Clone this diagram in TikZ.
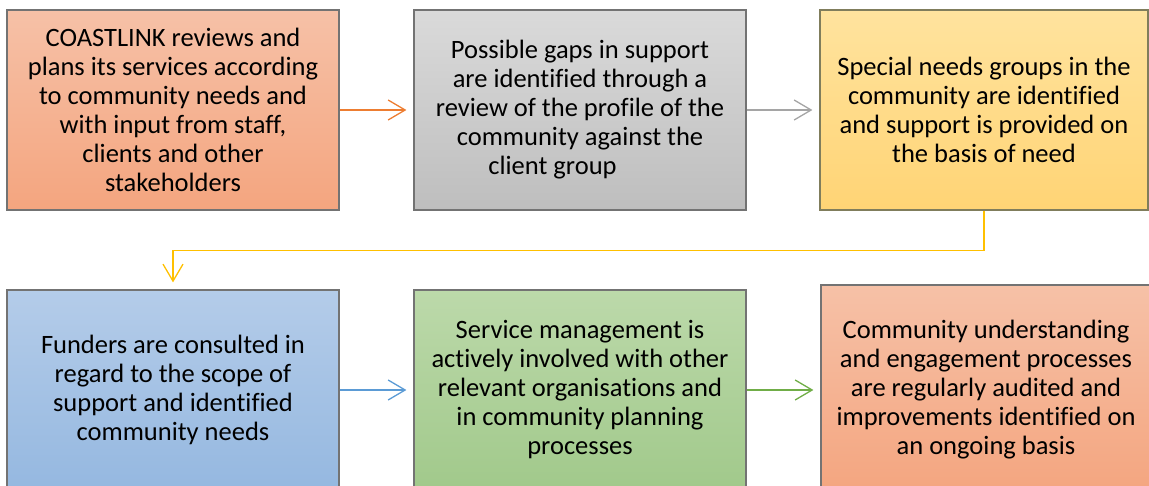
\documentclass[tikz,border=0pt]{standalone}
\usepackage{fontspec}
\setmainfont{Carlito}[Ligatures={NoCommon}]
\usetikzlibrary{positioning, arrows.meta}

\definecolor{orangetop}{HTML}{F6C1A7}
\definecolor{orangebot}{HTML}{F4A57F}
\definecolor{graytop}{HTML}{DADADA}
\definecolor{graybot}{HTML}{BEBEBE}
\definecolor{yellowtop}{HTML}{FFE39E}
\definecolor{yellowbot}{HTML}{FFD475}
\definecolor{bluetop}{HTML}{B4CCE9}
\definecolor{bluebot}{HTML}{95B8E0}
\definecolor{greentop}{HTML}{BCD9AA}
\definecolor{greenbot}{HTML}{A1C98B}
\definecolor{linkorange}{HTML}{ED7D31}
\definecolor{linkgray}{HTML}{A5A5A5}
\definecolor{linkyellow}{HTML}{FFC000}
\definecolor{linkblue}{HTML}{5B9BD5}
\definecolor{linkgreen}{HTML}{70AD47}

\tikzset{
    stage/.style={draw=gray!90!black, line width=1.2pt, minimum width=332pt,
        minimum height=200pt, inner sep=0pt, align=center,
        font=\fontsize{26.5}{29}\selectfont},
    link/.style={line width=1.3pt, -{Straight Barb[length=17pt, width=20pt]},
        shorten >=7pt},
}

\begin{document}
\begin{tikzpicture}[x=1pt, y=-1pt]

\useasboundingbox (0,0) rectangle (1149,486);

% top row
\node[stage, top color=orangetop, bottom color=orangebot] (review) at (173,110)
    {COASTLINK reviews and\\plans its services according\\to community needs and\\with input from staff,\\clients and other\\stakeholders};
\node[stage, top color=graytop, bottom color=graybot, right=73.8pt of review] (gaps)
    {Possible gaps in support\\are identified through a\\review of the profile of the\\community against the\\client group\hspace*{55pt}};
\node[stage, top color=yellowtop, bottom color=yellowbot, draw=black!60!yellow!70!gray,
    minimum width=328pt, right=72.8pt of gaps] (special)
    {Special needs groups in the\\community are identified\\and support is provided on\\the basis of need};

% bottom row
\node[stage, top color=bluetop, bottom color=bluebot] (funders) at (173,390)
    {Funders are consulted in\\regard to the scope of\\support and identified\\community needs};
\node[stage, top color=greentop, bottom color=greenbot, right=73.8pt of funders] (partners)
    {Service management is\\actively involved with other\\relevant organisations and\\in community planning\\processes};
\node[stage, top color=orangetop, bottom color=orangebot, minimum width=330pt,
    minimum height=210pt] (audit) at (986,390)
    {Community understanding\\and engagement processes\\are regularly audited and\\improvements identified on\\an ongoing basis};

% arrows along each row
\foreach \from/\to/\col in {review/gaps/linkorange, gaps/special/linkgray,
    funders/partners/linkblue, partners/audit/linkgreen} {
    \draw[link, \col] (\from.east) -- (\to.west);
}

% from the end of the top row down to the start of the bottom row
\draw[link, linkyellow] (special.south) -- ++(0,40) -| (funders.north);

\end{tikzpicture}
\end{document}
